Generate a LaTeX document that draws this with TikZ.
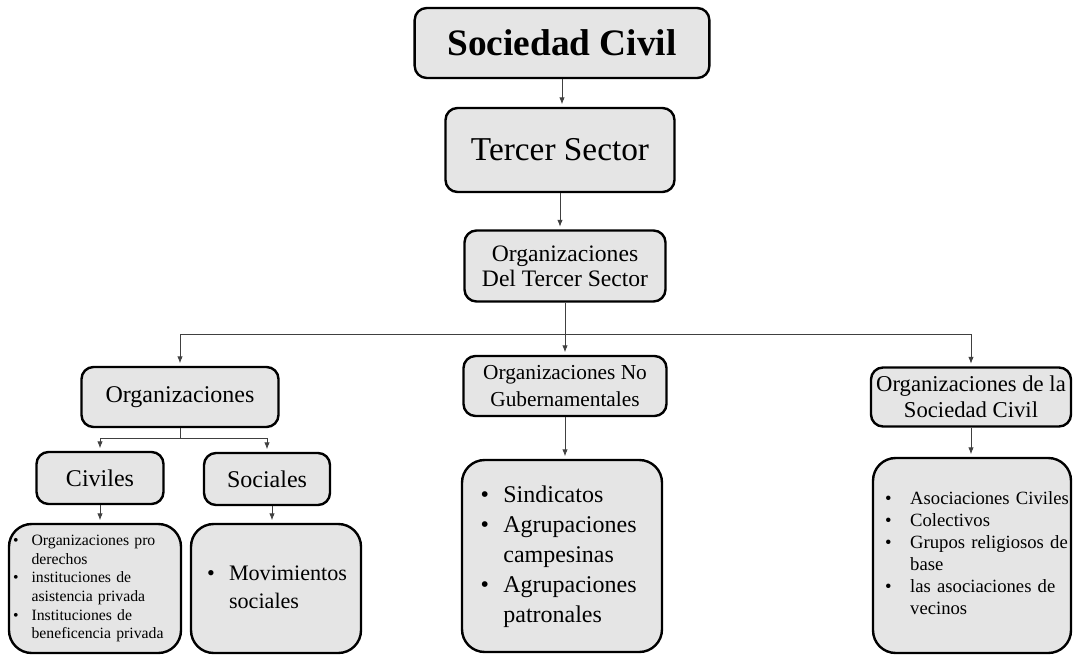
\documentclass[tikz,border=0pt]{standalone}
\usepackage{fontspec}
\setmainfont{Liberation Serif}
\usetikzlibrary{arrows.meta}

\begin{document}
\begin{tikzpicture}
[x=0.75pt,y=-0.75pt,
 caja/.style={draw=black,line width=1.8pt,fill=gray!20,rounded corners=9pt,align=center,inner sep=0pt},
 lista/.style={caja,rounded corners=17pt,align=left,inner ysep=0pt},
 linea/.style={draw=black!75,line width=0.6pt},
 flecha/.style={linea,-{Latex[length=5pt,width=4pt]},shorten >=2pt}]
\useasboundingbox (0,0) rectangle (1073,656);

% cadena superior
\node[caja,minimum width=221pt,minimum height=52.5pt,font=\fontsize{28}{32}\selectfont\bfseries] (sc) at (562,43) {Sociedad Civil};
\node[caja,minimum width=171.75pt,minimum height=63pt,font=\fontsize{25}{29}\selectfont] (ts) at (560,150) {Tercer Sector};
\node[caja,minimum width=150.75pt,minimum height=53.25pt,font=\fontsize{17.7}{18.5}\selectfont] (odts) at (565,266) {Organizaciones\\Del Tercer Sector};

% tres ramas
\node[caja,minimum width=147.75pt,minimum height=45pt,font=\fontsize{18}{21}\selectfont] (org) at (180,397) {Organizaciones};
\node[caja,minimum width=152.25pt,minimum height=45pt,font=\fontsize{16}{20}\selectfont] (ong) at (565,386) {Organizaciones No\\Gubernamentales};
\node[caja,minimum width=150pt,minimum height=44.25pt,font=\fontsize{17}{19.5}\selectfont] (osc) at (971,397) {Organizaciones de la\\Sociedad Civil};

\node[caja,minimum width=95.25pt,minimum height=39pt,font=\fontsize{18}{21}\selectfont] (civ) at (100,478) {Civiles};
\node[caja,minimum width=94.5pt,minimum height=39pt,font=\fontsize{18}{21}\selectfont] (soc) at (267,479) {Sociales};

% listas
\node[lista,text width=123pt,inner xsep=3pt,minimum height=96.75pt,font=\fontsize{11.8}{14}\selectfont] (civlst) at (95,588.5)
{\begin{tabular}{@{}l@{\hspace{9.8pt}}l@{}}
\textbullet & Organizaciones pro\\
 & derechos\\
\textbullet & instituciones de\\
 & asistencia privada\\
\textbullet & Instituciones de\\
 & beneficencia privada
\end{tabular}};
\node[lista,text width=103.5pt,inner xsep=12pt,minimum height=96.75pt,font=\fontsize{16.6}{21}\selectfont] (soclst) at (276,588.5)
{\begin{tabular}{@{}l@{\hspace{10.7pt}}l@{}}
\textbullet & Movimientos\\
 & sociales
\end{tabular}};
\node[lista,text width=122pt,inner xsep=14pt,minimum height=144pt,font=\fontsize{18}{22.5}\selectfont] (onglst) at (562,556)
{\begin{tabular}{@{}l@{\hspace{10.7pt}}l@{}}
\textbullet & Sindicatos\\
\textbullet & Agrupaciones\\
 & campesinas\\
\textbullet & Agrupaciones\\
 & patronales
\end{tabular}};
\node[lista,text width=130.5pt,inner xsep=9pt,minimum height=146.25pt,font=\fontsize{14}{16.5}\selectfont] (osclst) at (972,555.5)
{\begin{tabular}{@{}l@{\hspace{14pt}}l@{}}
\textbullet & Asociaciones Civiles\\
\textbullet & Colectivos\\
\textbullet & Grupos religiosos de\\
 & base\\
\textbullet & las asociaciones de\\
 & vecinos
\end{tabular}};

% conectores
\coordinate (bus) at (565,334);
\coordinate (split) at (180,438);
\draw[flecha] (sc.south) -- (sc.south |- ts.north);
\draw[flecha] (ts.south) -- (ts.south |- odts.north);
\draw[linea] (odts.south) -- (bus);
\draw[flecha] (bus) -| (org.north);
\draw[flecha] (bus) -- (ong.north);
\draw[flecha] (bus) -| (osc.north);
\draw[linea] (org.south) -- (split);
\draw[flecha] (split) -| (civ.north);
\draw[flecha] (split) -| (soc.north);
\draw[flecha] (civ.south) -- (civ.south |- civlst.north);
\draw[flecha] (soc.south) ++(5,0) coordinate (socbaja) -- (socbaja |- soclst.north);
\draw[flecha] (ong.south) -- (ong.south |- onglst.north);
\draw[flecha] (osc.south) -- (osc.south |- osclst.north);
\end{tikzpicture}
\end{document}
